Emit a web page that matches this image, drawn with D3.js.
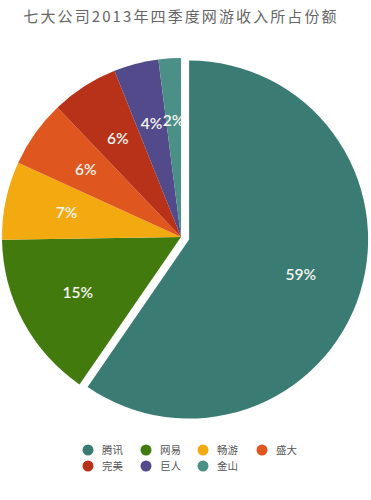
<!DOCTYPE html>
<html><head><meta charset="utf-8">
<script src="https://cdn.jsdelivr.net/npm/d3@7"></script>
<style>body{margin:0;background:#fff;}svg{display:block;}</style>
</head><body>
<script>
const title = "七大公司2013年四季度网游收入所占份额";
const companies = ["腾讯","网易","畅游","盛大","完美","巨人","金山"];
const shares = [59,15,7,6,6,4,2];
const colors = ["#3a7c73","#437a0e","#f2aa10","#e0561f","#b8321a","#524a8a","#4a9087"];

const W=371,H=500;
const svg=d3.select("body").append("svg").attr("width",W).attr("height",H);
const data = companies.map((c,i)=>({name:c,value:shares[i],color:colors[i]}));

svg.append("text").attr("x",181).attr("y",22).attr("text-anchor","middle")
  .attr("font-family","'Noto Sans CJK SC'").attr("font-size",15).attr("fill","#666")
  .attr("letter-spacing","2.1px").text(title);

const cx=181, cy=237, R=179;
const pie=d3.pie().value(d=>d.value).sort(null);
const arc=d3.arc().innerRadius(0).outerRadius(R);
const labelArc=d3.arc().innerRadius(117).outerRadius(117);
const g=svg.append("g").attr("transform",`translate(${cx},${cy})`);
const arcs=pie(data);
const explode=8.5;
const sl=g.selectAll("g.s").data(arcs).enter().append("g")
  .attr("transform",(d,i)=>{
    if(i!==0) return null;
    const m=(d.startAngle+d.endAngle)/2;
    return `translate(${explode*Math.sin(m)},${-explode*Math.cos(m)})`;
  });
sl.append("path").attr("d",arc).attr("fill",d=>d.data.color);
sl.append("text").attr("transform",d=>`translate(${labelArc.centroid(d)})`)
  .attr("text-anchor","middle").attr("dy","0.35em")
  .attr("font-family","Lato").attr("font-size",15.5).attr("font-weight",600)
  .attr("fill","#f4f4ee").text(d=>d.data.value+"%");

// legend
const colX=[88,146,203,262], rowY=[450,466];
const lg=svg.append("g");
data.forEach((d,i)=>{
  const x=colX[i%4], y=rowY[Math.floor(i/4)];
  lg.append("circle").attr("cx",x).attr("cy",y).attr("r",5.5).attr("fill",d.color);
  lg.append("text").attr("x",x+14).attr("y",y).attr("dy","0.36em")
    .attr("font-family","'Noto Sans CJK SC'").attr("font-size",10.5).attr("fill","#555").text(d.name);
});
</script>
</body></html>
